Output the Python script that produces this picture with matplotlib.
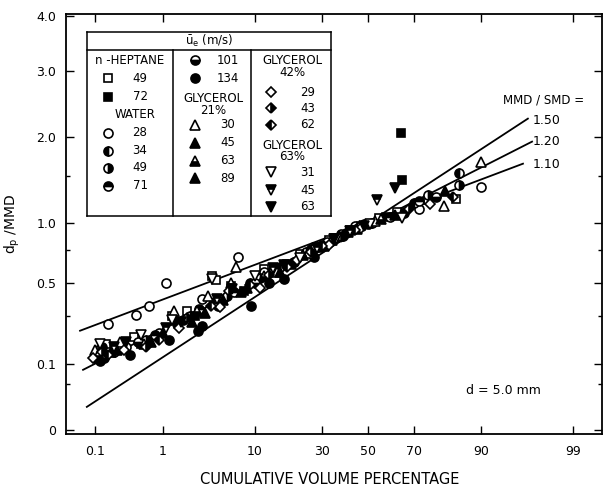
import numpy as np
import matplotlib
matplotlib.use("Agg")
import matplotlib.pyplot as plt
from matplotlib.lines import Line2D
from matplotlib.ticker import FixedLocator, NullLocator, FixedFormatter
from statistics import NormalDist

# ---- data: cumulative volume % (p) and dp/MMD (r) ----
hep49_p = [0.15, 0.4, 1.3, 2.0, 3.9, 4.2, 6, 12, 22, 33, 42, 55, 63, 75, 84]
hep49_r = [0.17, 0.20, 0.30, 0.33, 0.55, 0.52, 0.48, 0.60, 0.72, 0.84, 0.93, 1.05, 1.11, 1.23, 1.24]
hep72_p = [0.12, 0.5, 2.5, 8, 18, 35, 47, 58, 64.5, 65]
hep72_r = [0.13, 0.17, 0.30, 0.45, 0.64, 0.86, 0.97, 1.06, 2.05, 1.45]

w28_p = [0.16, 0.43, 0.65, 1.1, 7, 0.11, 0.9, 3, 5, 12, 20, 28, 38, 44, 72, 90]
w28_r = [0.26, 0.31, 0.36, 0.50, 0.70, 0.15, 0.22, 0.40, 0.40, 0.58, 0.66, 0.78, 0.89, 0.97, 1.14, 1.37]
w34_p = [0.1, 0.3, 1.5, 4, 9, 16, 26, 40, 52, 70, 85]
w34_r = [0.12, 0.16, 0.26, 0.38, 0.50, 0.62, 0.76, 0.90, 1.00, 1.20, 1.54]
w49_p = [0.13, 0.6, 2.2, 5.5, 11, 24, 36, 48, 75, 85]
w49_r = [0.16, 0.19, 0.30, 0.42, 0.54, 0.74, 0.86, 0.99, 1.28, 1.40]
w71_p = [0.2, 0.8, 2.8, 6.5, 14, 30, 43, 60, 72]
w71_r = [0.14, 0.21, 0.34, 0.44, 0.60, 0.80, 0.93, 1.06, 1.22]
w101_p = [0.14, 0.45, 1.8, 4.5, 10, 20, 32, 46, 78]
w101_r = [0.12, 0.18, 0.28, 0.36, 0.50, 0.66, 0.82, 0.96, 1.26]
w134_p = [0.12, 0.35, 1.2, 3, 2.7, 9.3, 13, 17, 27, 39, 50, 66]
w134_r = [0.11, 0.13, 0.19, 0.25, 0.23, 0.36, 0.50, 0.53, 0.70, 0.88, 0.99, 1.10]

g21_30_p = [0.1, 0.25, 1.4, 3.5, 6.8, 15, 25, 37, 53, 80.5, 90]
g21_30_r = [0.15, 0.18, 0.33, 0.42, 0.62, 0.58, 0.73, 0.88, 1.02, 1.17, 1.67]
g21_45_p = [0.18, 0.7, 2.3, 5, 8.5, 19, 31, 45, 81]
g21_45_r = [0.14, 0.18, 0.27, 0.39, 0.47, 0.64, 0.79, 0.94, 1.33]
g21_63_p = [0.11, 0.55, 2.6, 6, 12, 23, 34, 56]
g21_63_r = [0.13, 0.17, 0.33, 0.50, 0.55, 0.71, 0.84, 1.04]
g21_89_p = [0.22, 1.0, 3.2, 7.5, 16, 29, 41, 62]
g21_89_r = [0.15, 0.22, 0.32, 0.44, 0.58, 0.78, 0.91, 1.08]

g42_29_p = [0.09, 0.28, 1.6, 4.7, 11, 21, 33, 47, 76]
g42_29_r = [0.12, 0.15, 0.24, 0.35, 0.47, 0.67, 0.80, 0.95, 1.19]
g42_43_p = [0.13, 0.6, 2.0, 5.8, 13, 26, 38, 68]
g42_43_r = [0.14, 0.16, 0.29, 0.45, 0.56, 0.74, 0.87, 1.14]
g42_62_p = [0.16, 0.9, 3.8, 9, 18, 30, 44, 83.3]
g42_62_r = [0.13, 0.19, 0.36, 0.49, 0.62, 0.79, 0.93, 1.26]

g63_31_p = [0.12, 0.5, 1.3, 3.9, 10, 22, 36, 51, 65]
g63_31_r = [0.17, 0.21, 0.28, 0.53, 0.55, 0.69, 0.85, 0.99, 1.05]
g63_45_p = [0.2, 1.1, 4.4, 14, 28, 42, 54]
g63_45_r = [0.16, 0.24, 0.40, 0.61, 0.77, 0.92, 1.23]
g63_63_p = [0.3, 1.7, 6.2, 17, 35, 48, 62]
g63_63_r = [0.18, 0.27, 0.46, 0.63, 0.85, 0.97, 1.36]

# reference lines MMD/SMD (end points)
line_labels = ["1.50", "1.20", "1.10"]
line_p = [[0.072, 96.5], [0.062, 96.85], [0.055, 96.05]]
line_r = [[0.0123, 2.257], [0.084, 1.936], [0.229, 1.651]]

xticks = [0.1, 1, 10, 30, 50, 70, 90, 99]
xticklabels = ["0.1", "1", "10", "30", "50", "70", "90", "99"]
yticks = [0, 0.1, 0.5, 1.0, 2.0, 3.0, 4.0]
yticklabels = ["0", "0.1", "0.5", "1.0", "2.0", "3.0", "4.0"]
yminor = [0.05, 0.3, 0.75, 1.5]

# ---- scales ----
nd = NormalDist()
_q = np.vectorize(lambda v: nd.inv_cdf(v / 100.0), otypes=[float])
_c = np.vectorize(lambda v: nd.cdf(v) * 100.0, otypes=[float])

def prob_fwd(p):
    p = np.clip(np.asarray(p, dtype=float), 1e-7, 100 - 1e-7)
    return _q(p)

def prob_inv(z):
    return _c(np.asarray(z, dtype=float))

def sq_fwd(y):
    y = np.asarray(y, dtype=float)
    return np.sign(y) * np.sqrt(np.abs(y))

def sq_inv(s):
    s = np.asarray(s, dtype=float)
    return np.sign(s) * s ** 2

W, H = 604, 488
def px(x, y):
    return x / W, 1 - y / H

fig = plt.figure(figsize=(W / 100, H / 100), dpi=100)
ax = fig.add_axes([66 / W, 1 - 434 / H, 536 / W, 420 / H])
ax.set_xscale("function", functions=(prob_fwd, prob_inv))
ax.set_yscale("function", functions=(sq_fwd, sq_inv))
ax.set_xlim(0.031, 99.6)
ax.set_ylim(-0.0004, 4.03)

ax.xaxis.set_major_locator(FixedLocator(xticks))
ax.xaxis.set_major_formatter(FixedFormatter(xticklabels))
ax.xaxis.set_minor_locator(NullLocator())
ax.yaxis.set_major_locator(FixedLocator(yticks))
ax.yaxis.set_major_formatter(FixedFormatter(yticklabels))
ax.yaxis.set_minor_locator(FixedLocator(yminor))
ax.tick_params(which="both", direction="in", top=True, right=True,
               labelsize=9, width=1.0)
ax.tick_params(which="major", length=6)
ax.tick_params(which="minor", length=3)
ax.tick_params(axis="x", pad=8)
ax.tick_params(axis="y", pad=7)
for s in ax.spines.values():
    s.set_linewidth(1.3)

for lp, lr in zip(line_p, line_r):
    ax.plot(lp, lr, color="black", lw=1.3, zorder=2)

K = "black"
styles = [
    (hep49_p, hep49_r, "s", "none", 5.5),
    (hep72_p, hep72_r, "s", "full", 5.5),
    (w28_p, w28_r, "o", "none", 6.5),
    (w34_p, w34_r, "o", "left", 6.5),
    (w49_p, w49_r, "o", "right", 6.5),
    (w71_p, w71_r, "o", "top", 6.5),
    (w101_p, w101_r, "o", "bottom", 6.5),
    (w134_p, w134_r, "o", "full", 6.5),
    (g21_30_p, g21_30_r, "^", "none", 6.5),
    (g21_45_p, g21_45_r, "^", "full", 6.5),
    (g21_63_p, g21_63_r, "^", "bottom", 6.5),
    (g21_89_p, g21_89_r, "^", "full", 6.5),
    (g42_29_p, g42_29_r, "D", "none", 5.2),
    (g42_43_p, g42_43_r, "D", "right", 5.2),
    (g42_62_p, g42_62_r, "D", "left", 5.2),
    (g63_31_p, g63_31_r, "v", "none", 6.5),
    (g63_45_p, g63_45_r, "v", "top", 6.5),
    (g63_63_p, g63_63_r, "v", "full", 6.5),
]

def mkw(m, fs, ms):
    if fs == "none":
        return dict(marker=m, ms=ms, mfc="white", mec=K, mew=1.2)
    return dict(marker=m, ms=ms, fillstyle=fs, mfc=K, mfcalt="white", mec=K, mew=1.2)

for p, r, m, fs, ms in styles:
    ax.plot(p, r, linestyle="none", zorder=3, **mkw(m, fs, ms))

ax.set_xlabel("CUMULATIVE VOLUME PERCENTAGE", fontsize=10.5)
ax.xaxis.set_label_coords((330 - 66) / 536, -(472 - 434) / 420)
ax.set_ylabel(r"d$_\mathregular{p}$ /MMD", fontsize=10)
ax.yaxis.set_label_coords((22 - 66) / 536, 0.5)

# annotations
fig.text(*px(503, 100), "MMD / SMD =", fontsize=8.5, va="center")
for lab, yy in zip(line_labels, [120, 142, 164]):
    fig.text(*px(533, yy), lab, fontsize=9, va="center")
fig.text(*px(466, 390), "d = 5.0 mm", fontsize=9, va="center")

# ---- legend table ----
def fline(x0, y0, x1, y1):
    a, b = px(x0, y0)
    c, d = px(x1, y1)
    fig.add_artist(Line2D([a, c], [b, d], transform=fig.transFigure, color=K, lw=1.1))

fline(87, 32, 331, 32)
fline(87, 216, 331, 216)
fline(87, 32, 87, 216)
fline(331, 32, 331, 216)
fline(87, 50, 331, 50)
fline(173, 50, 173, 216)
fline(251, 50, 251, 216)

fig.text(*px(209, 41), r"$\bar{\mathregular{u}}_\mathregular{e}$ (m/s)", fontsize=8.5,
         ha="center", va="center")

def ftxt(x, y, s):
    fig.text(*px(x, y), s, fontsize=8.5, ha="center", va="center")

def fmark(x, y, m, fs, ms):
    a, b = px(x, y)
    fig.add_artist(Line2D([a], [b], transform=fig.transFigure, linestyle="none",
                          **mkw(m, fs, ms)))

leg_rows = [
    (108, 140, 78, "49", 0), (108, 140, 97, "72", 1),
    (108, 140, 133, "28", 2), (108, 140, 151, "34", 3),
    (108, 140, 168, "49", 4), (108, 140, 186, "71", 5),
    (195, 228, 60, "101", 6), (195, 228, 78, "134", 7),
    (195, 228, 125, "30", 8), (195, 228, 143, "45", 9),
    (195, 228, 161, "63", 10), (195, 228, 178, "89", 11),
    (271, 308, 92, "29", 12), (271, 308, 108, "43", 13),
    (271, 308, 125, "62", 14),
    (271, 308, 172, "31", 15), (271, 308, 190, "45", 16),
    (271, 308, 207, "63", 17),
]
for mx, tx, yy, lab, i in leg_rows:
    _, _, m, fs, ms = styles[i]
    fmark(mx, yy, m, fs, ms)
    ftxt(tx, yy, lab)

ftxt(130, 60, "n -HEPTANE")
ftxt(135, 115, "WATER")
ftxt(213, 99, "GLYCEROL")
ftxt(213, 111, "21%")
ftxt(292, 61, "GLYCEROL")
ftxt(292, 73, "42%")
ftxt(292, 145, "GLYCEROL")
ftxt(292, 157, "63%")

fig.savefig("out.png", dpi=100)
